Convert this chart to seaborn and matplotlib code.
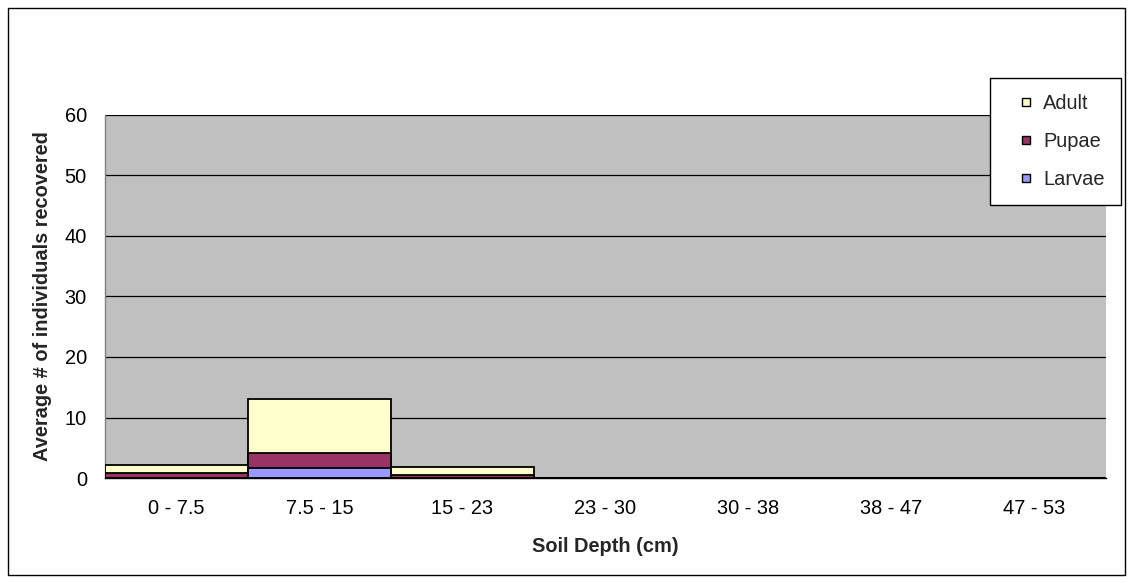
import matplotlib
matplotlib.use("Agg")
import matplotlib.pyplot as plt
from matplotlib.lines import Line2D
from matplotlib.patches import Rectangle
from matplotlib.ticker import FixedLocator
import numpy as np
import pandas as pd
import seaborn as sns

depths = ["0 - 7.5", "7.5 - 15", "15 - 23", "23 - 30", "30 - 38", "38 - 47", "47 - 53"]
larvae = [0.0, 1.6, 0.0, 0.0, 0.0, 0.0, 0.0]
pupae = [0.8, 2.5, 0.5, 0.0, 0.0, 0.0, 0.0]
adult = [1.3, 8.9, 1.4, 0.0, 0.0, 0.0, 0.0]

colors = {"Adult": "#FFFFCC", "Pupae": "#993366", "Larvae": "#9999FF"}

df = pd.DataFrame({"depth": depths, "Larvae": larvae, "Pupae": pupae, "Adult": adult})
df["lp"] = df["Larvae"] + df["Pupae"]
df["total"] = df["lp"] + df["Adult"]

sns.set_style("white")
plt.rcParams["font.family"] = ["Liberation Sans", "DejaVu Sans"]
FS = 14.4

fig = plt.figure(figsize=(11.33, 5.83), dpi=100)
ax = fig.add_axes([0.0927, 0.18, 0.8833, 0.623])
ax.set_facecolor("#C0C0C0")

# stacked layers drawn from the cumulative totals down
for col, name in [("total", "Adult"), ("lp", "Pupae"), ("Larvae", "Larvae")]:
    sns.barplot(data=df, x="depth", y=col, order=depths, color=colors[name],
                saturation=1, width=1.0, edgecolor="black", linewidth=1.3,
                errorbar=None, ax=ax, zorder=3)

ax.set_xlim(-0.5, len(depths) - 0.5)
ax.set_ylim(0, 60)
ax.set_yticks(np.arange(0, 61, 10))
ax.yaxis.grid(True, color="black", linewidth=0.9, zorder=1)
ax.set_axisbelow(True)

for side in ["top", "right"]:
    ax.spines[side].set_visible(False)
ax.spines["left"].set_color("#808080")
ax.spines["bottom"].set_color("black")
ax.spines["left"].set_linewidth(1.0)
ax.spines["bottom"].set_linewidth(1.0)

ax.tick_params(axis="x", which="major", length=0, labelsize=FS, pad=15, colors="black")
ax.xaxis.set_minor_locator(FixedLocator(np.arange(-0.5, len(depths), 1.0)))
ax.tick_params(axis="x", which="minor", length=6, width=1, direction="out", colors="black")
ax.tick_params(axis="y", length=6, width=1, direction="out", labelsize=FS, colors="black", pad=7)

ax.set_xlabel("Soil Depth (cm)", fontsize=FS, fontweight="bold", labelpad=14)
ax.set_ylabel("Average # of individuals recovered", fontsize=FS, fontweight="bold", labelpad=9)

handles = [Line2D([], [], linestyle="none", marker="s", markersize=5.5,
                  markerfacecolor=colors[n], markeredgecolor="black",
                  markeredgewidth=1.0, label=n)
           for n in ["Adult", "Pupae", "Larvae"]]
leg = fig.legend(handles=handles, loc="upper left", bbox_to_anchor=(990 / 1133, 1 - 78 / 583),
                 frameon=True, fancybox=False, edgecolor="black", facecolor="white",
                 framealpha=1, fontsize=FS, numpoints=1,
                 handlelength=2.0, handletextpad=-0.15,
                 labelspacing=0.95, borderpad=0.8, borderaxespad=0)
leg.get_frame().set_linewidth(1.0)

# outer chart border
fig.patches.append(Rectangle((8 / 1133, 8 / 583), 1 - 16 / 1133, 1 - 16 / 583,
                             transform=fig.transFigure, fill=False,
                             edgecolor="black", linewidth=1.0))

fig.savefig("out.png", dpi=100, facecolor="white")
